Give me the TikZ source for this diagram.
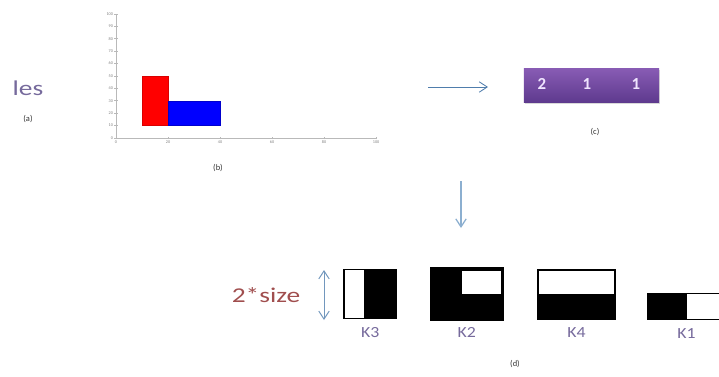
\documentclass[tikz,border=0pt]{standalone}
\usepackage{fontspec}
\setmainfont{Carlito}
\usetikzlibrary{positioning,arrows.meta,shadows}

\definecolor{flowblue}{RGB}{79,125,172}
\definecolor{flowpale}{RGB}{140,175,208}
\definecolor{labpurple}{RGB}{118,106,156}
\definecolor{sizered}{RGB}{160,78,78}
\definecolor{boxtop}{RGB}{136,92,180}
\definecolor{boxbot}{RGB}{94,58,142}
\definecolor{numtext}{RGB}{240,228,255}

\begin{document}
\begin{tikzpicture}[
  x=0.025cm, y=-0.025cm,
  caption/.style={font=\fontsize{6}{7}\selectfont, text=black!80, inner sep=0pt},
  bigtext/.style={font=\fontsize{15}{18}\selectfont, xscale=1.3, inner sep=0pt},
  kbox/.style={draw=black, line width=1.4pt, fill=white, inner sep=0pt},
  klabel/.style={font=\fontsize{11}{13}\selectfont, xscale=1.15, text=labpurple, inner sep=1pt},
  num/.style={font=\fontsize{12}{14}\selectfont\bfseries, text=numtext},
  flow/.style={-{Straight Barb[length=2mm, width=2.6mm]}, line width=0.6pt},
  flowboth/.style={{Straight Barb[length=2mm, width=2.6mm]}-{Straight Barb[length=2mm, width=2.6mm]}, line width=0.7pt},
  axis/.style={draw=gray!55, line width=0.5pt},
  tick/.style={font=\fontsize{3}{3.5}\selectfont, text=gray, inner sep=0.5pt}
]
\useasboundingbox (0,0) rectangle (719,376);
\clip (0,0) rectangle (719,376);

% (a)
\node[bigtext, text=labpurple] (les) at (28,88) {les};
\node[caption] (capa) at (28,119) {(a)};

% (b) histogram
\begin{scope}[shift={(116,138)}, x=0.065cm, y=0.031cm]
  \filldraw[fill=red, draw=red!85!black, line width=0.3pt] (10,10) rectangle (20,50);
  \filldraw[fill=blue, draw=blue!80!black, line width=0.3pt] (20,10) rectangle (40,30);
  \draw[axis] (0,100) -- (0,0) -- (100,0);
  \foreach \v in {0,10,...,100} {
    \draw[axis] (-0.6,\v) -- (0.6,\v);
    \node[tick, left] at (-0.8,\v) {\v};
  }
  \foreach \v in {0,20,...,100} {
    \draw[axis] (\v,-1.2) -- (\v,1.2);
    \node[tick, below] at (\v,-1.5) {\v};
  }
\end{scope}
\node[caption] (capb) at (218,168) {(b)};

% (c)
\coordinate (rs) at (428,87);
\coordinate (re) at (488,87);
\draw[flow, flowblue] (rs) -- (re);
\node[minimum width=3.375cm, minimum height=0.85cm, top color=boxtop, bottom color=boxbot,
  drop shadow={opacity=0.3, shadow xshift=0.5pt, shadow yshift=-1.5pt}] (counts) at (591.5,85.3) {};
\node[num] (n1) at (542,84) {2};
\node[num] (n2) at (587,84) {1};
\node[num] (n3) at (636,84) {1};
\node[caption] (capc) at (595,132) {(c)};

\coordinate (ds) at (461,181);
\coordinate (de) at (461,228);
\draw[flow, flowpale, line width=0.9pt] (ds) -- (de);

% (d)
\node[bigtext, text=sizered] (size) at (266,295) {2*size};
\coordinate (ht) at (324,270);
\coordinate (hb) at (324,320);
\draw[flowboth, flowblue!80!white] (ht) -- (hb);

\node[kbox, minimum width=1.29cm, minimum height=1.225cm] (k3) at (370.25,294) {};
\fill (364,270) rectangle (396,318);
\node[kbox, fill=black, minimum width=1.79cm, minimum height=1.31cm] (k2) at (466.75,294.25) {};
\fill[white] (462,271) rectangle (500.5,293.5);
\node[kbox, minimum width=1.925cm, minimum height=1.225cm] (k4) at (576.5,294.5) {};
\fill (538,294) rectangle (615,319);
\node[kbox, minimum width=1.925cm, minimum height=0.65cm] (k1) at (686.5,306.5) {};
\fill (648,293.5) rectangle (686.5,319.5);

\node[klabel, below=1.5mm of k3] (k3lab) {K3};
\node[klabel, below=1mm of k2] (k2lab) {K2};
\node[klabel, below=1.5mm of k4] (k4lab) {K4};
\node[klabel, below=1.5mm of k1] (k1lab) {K1};
\node[caption] (capd) at (515,364) {(d)};
\end{tikzpicture}
\end{document}
